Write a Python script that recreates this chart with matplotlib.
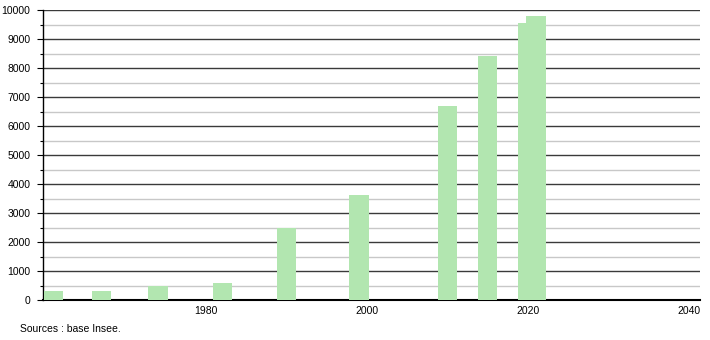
import matplotlib
matplotlib.use("Agg")
import matplotlib.pyplot as plt
from matplotlib.ticker import MultipleLocator

years = [1961, 1967, 1974, 1982, 1990, 1999, 2010, 2015, 2020, 2021]
population = [310, 305, 483, 575, 2475, 3620, 6700, 8420, 9545, 9790]
xticks = [1980, 2000, 2020, 2040]

plt.rcParams["font.family"] = ["Liberation Sans", "DejaVu Sans"]

fig = plt.figure(figsize=(7.1, 3.4), dpi=100)
ax = fig.add_axes([43 / 710, 1 - 300 / 340, 657 / 710, 290 / 340])

ax.bar(years, population, width=2.4, color="#b2e6b0", zorder=3)

ax.set_xlim(1959.7, 2041.4)
ax.set_ylim(0, 10000)
ax.set_xticks(xticks)
ax.yaxis.set_major_locator(MultipleLocator(1000))
ax.yaxis.set_minor_locator(MultipleLocator(500))

ax.grid(axis="y", which="major", color="#3a3a3a", lw=1.0, zorder=1)
ax.grid(axis="y", which="minor", color="#c8c8c8", lw=1.0, zorder=1)

for s in ("top", "right"):
    ax.spines[s].set_visible(False)
ax.spines["left"].set_linewidth(1.0)
ax.spines["bottom"].set_linewidth(1.5)

ax.tick_params(axis="y", which="major", length=4, width=0.8, pad=5, labelsize=7.5)
ax.tick_params(axis="y", which="minor", length=2, width=0.8)
ax.tick_params(axis="x", length=0, pad=4, labelsize=7.5)

fig.text(20 / 710, 1 - 329 / 340, "Sources : base Insee.", fontsize=7.5, va="center")

fig.savefig("out.png", dpi=100)
